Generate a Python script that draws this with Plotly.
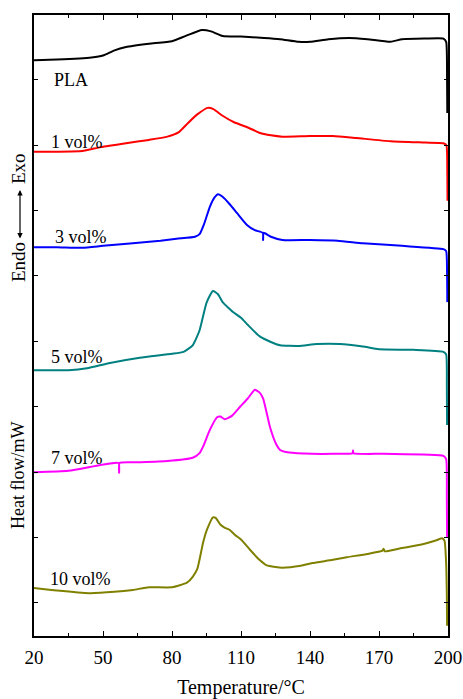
import plotly.graph_objects as go

# ---- data (temperature in °C, heat flow in arbitrary offset units) ----
pla_T = [20, 30, 45, 50, 55, 60, 70, 80, 86, 93, 97, 102, 110, 120, 127, 135, 140, 148, 157, 165, 175, 180, 190, 198, 199.2, 199.6, 199.7]
pla_H = [8.30, 8.31, 8.34, 8.37, 8.45, 8.50, 8.55, 8.59, 8.67, 8.76, 8.74, 8.67, 8.66, 8.64, 8.62, 8.58, 8.58, 8.62, 8.64, 8.62, 8.58, 8.62, 8.63, 8.63, 8.58, 8.00, 7.49]

v1_T = [20, 30, 41, 49, 60, 70, 78, 83, 87, 91, 95.5, 98, 102, 107, 113, 118, 123, 128, 140, 150, 160, 175, 190, 198, 199.3, 199.7, 199.8]
v1_H = [6.90, 6.90, 6.91, 6.97, 7.03, 7.08, 7.13, 7.20, 7.34, 7.47, 7.57, 7.55, 7.45, 7.35, 7.27, 7.19, 7.15, 7.13, 7.14, 7.14, 7.11, 7.06, 7.04, 7.03, 7.00, 6.60, 6.15]

v3_T = [20, 30, 41, 50, 63, 75, 82, 90, 92, 94, 96.5, 98.5, 100, 102, 105, 108.3, 112.6, 116, 119.5, 119.6, 119.8, 123, 128, 140, 152, 163, 180, 198, 199.2, 199.6, 199.7]
v3_H = [5.44, 5.44, 5.43, 5.46, 5.50, 5.54, 5.57, 5.60, 5.64, 5.80, 6.06, 6.20, 6.25, 6.21, 6.10, 5.96, 5.78, 5.70, 5.66, 5.55, 5.66, 5.60, 5.55, 5.55, 5.54, 5.50, 5.46, 5.41, 5.38, 5.00, 4.60]

v5_T = [20, 35, 43, 53, 66, 80, 85, 89, 92, 95, 97.8, 100, 102, 104, 106.5, 110, 113, 118, 123, 127, 135, 143, 153, 163, 170, 185, 198, 199.2, 199.5, 199.6]
v5_H = [3.56, 3.56, 3.59, 3.67, 3.75, 3.81, 3.84, 3.94, 4.17, 4.59, 4.77, 4.72, 4.60, 4.53, 4.45, 4.36, 4.25, 4.08, 3.99, 3.94, 3.93, 3.96, 3.96, 3.92, 3.88, 3.87, 3.84, 3.80, 3.30, 2.72]

v7_T = [20, 35, 49, 56.8, 57, 57.2, 65, 78, 89, 92, 93.5, 96.5, 99.6, 101, 103, 106, 109.6, 113, 116, 118, 119.6, 122.6, 125, 127, 131, 141, 150, 158.5, 158.7, 158.9, 172, 198, 199.2, 199.5, 199.6]
v7_H = [2.00, 2.02, 2.11, 2.14, 1.99, 2.14, 2.15, 2.17, 2.22, 2.29, 2.39, 2.65, 2.84, 2.85, 2.81, 2.86, 3.00, 3.13, 3.26, 3.22, 3.13, 2.69, 2.45, 2.34, 2.30, 2.28, 2.28, 2.29, 2.33, 2.29, 2.28, 2.25, 2.20, 1.60, 1.01]

v10_T = [20, 30, 44, 55, 63, 70, 80, 86.5, 89, 91, 93.5, 95.2, 97.8, 99, 101, 103, 105, 107.4, 110, 114, 118, 121, 125, 128, 136, 141, 150, 156, 165, 171.5, 172, 172.5, 180, 188, 195, 197.5, 198.5, 199.2, 199.5, 199.6]
v10_H = [0.23, 0.19, 0.15, 0.17, 0.20, 0.24, 0.24, 0.31, 0.40, 0.52, 0.92, 1.12, 1.31, 1.30, 1.20, 1.15, 1.12, 1.04, 0.97, 0.81, 0.66, 0.58, 0.55, 0.54, 0.57, 0.61, 0.66, 0.70, 0.75, 0.80, 0.83, 0.79, 0.84, 0.89, 0.96, 0.99, 0.95, 0.60, 0.10, -0.35]

series_T = [pla_T, v1_T, v3_T, v5_T, v7_T, v10_T]
series_H = [pla_H, v1_H, v3_H, v5_H, v7_H, v10_H]
names = ["PLA", "1 vol%", "3 vol%", "5 vol%", "7 vol%", "10 vol%"]
colors = ["#000000", "#FF0000", "#0000FF", "#008080", "#FF00FF", "#808000"]

label_T = [27.8, 26.5, 28.3, 26.5, 26.5, 26.1]
label_H = [8.00, 7.05, 5.60, 3.76, 2.22, 0.37]

FONT = "Liberation Serif, Times New Roman, serif"

fig = go.Figure()
for T, H, n, c in zip(series_T, series_H, names, colors):
    fig.add_trace(go.Scatter(x=T, y=H, mode="lines", name=n,
                             line=dict(color=c, width=2, shape="spline", smoothing=0.5),
                             showlegend=False))

for n, lt, lh in zip(names, label_T, label_H):
    fig.add_annotation(x=lt, y=lh, text=n, showarrow=False, xanchor="left",
                       yanchor="middle", font=dict(family=FONT, size=18, color="black"))

# y-axis titles (plot area: 34..448 px wide, 15..636 px tall)
def px_x(p):
    return (p - 34) / 414.0

def px_y(p):
    return (636 - p) / 621.0

fig.add_annotation(xref="paper", yref="paper", x=px_x(18), y=px_y(476),
                   xanchor="center", yanchor="middle",
                   text="Heat flow/mW", textangle=-90, showarrow=False,
                   font=dict(family=FONT, size=18, color="black"))
fig.add_annotation(xref="paper", yref="paper", x=px_x(18), y=px_y(262),
                   xanchor="center", yanchor="middle",
                   text="Endo", textangle=-90, showarrow=False,
                   font=dict(family=FONT, size=19, color="black"))
fig.add_annotation(xref="paper", yref="paper", x=px_x(18), y=px_y(169),
                   xanchor="center", yanchor="middle",
                   text="Exo", textangle=-90, showarrow=False,
                   font=dict(family=FONT, size=19, color="black"))
fig.add_annotation(xref="paper", yref="paper", x=px_x(20), y=px_y(190),
                   ax=0, ay=50, axref="pixel", ayref="pixel",
                   text="", showarrow=True, arrowhead=2, arrowside="end+start",
                   arrowsize=0.9, arrowwidth=1.2, arrowcolor="black")

fig.update_layout(
    width=463, height=699,
    margin=dict(l=34, r=15, t=15, b=63, autoexpand=False),
    paper_bgcolor="white", plot_bgcolor="white",
    font=dict(family=FONT, size=19, color="black"),
    xaxis=dict(range=[20, 200], tickmode="linear", tick0=20, dtick=30,
               ticks="inside", ticklen=5, tickwidth=1.2, tickcolor="black",
               showline=True, linecolor="black", linewidth=1.5, mirror="ticks",
               showgrid=False, zeroline=False, automargin=False,
               ticklabelstandoff=3,
               minor=dict(ticks="inside", ticklen=3, tickwidth=1, tickcolor="black",
                          tickmode="linear", tick0=20, dtick=15),
               title=dict(text="Temperature/°C", font=dict(family=FONT, size=20), standoff=24),
               tickfont=dict(family=FONT, size=19)),
    yaxis=dict(range=[-0.505, 8.99], tickmode="linear", tick0=0, dtick=1,
               showticklabels=False, automargin=False,
               ticks="inside", ticklen=4, tickwidth=1.2, tickcolor="black",
               showline=True, linecolor="black", linewidth=1.5, mirror="ticks",
               showgrid=False, zeroline=False),
)

fig.write_html("out.html", config={"displayModeBar": False},
               post_script="document.body.style.margin='0px';document.body.style.padding='0px';")
